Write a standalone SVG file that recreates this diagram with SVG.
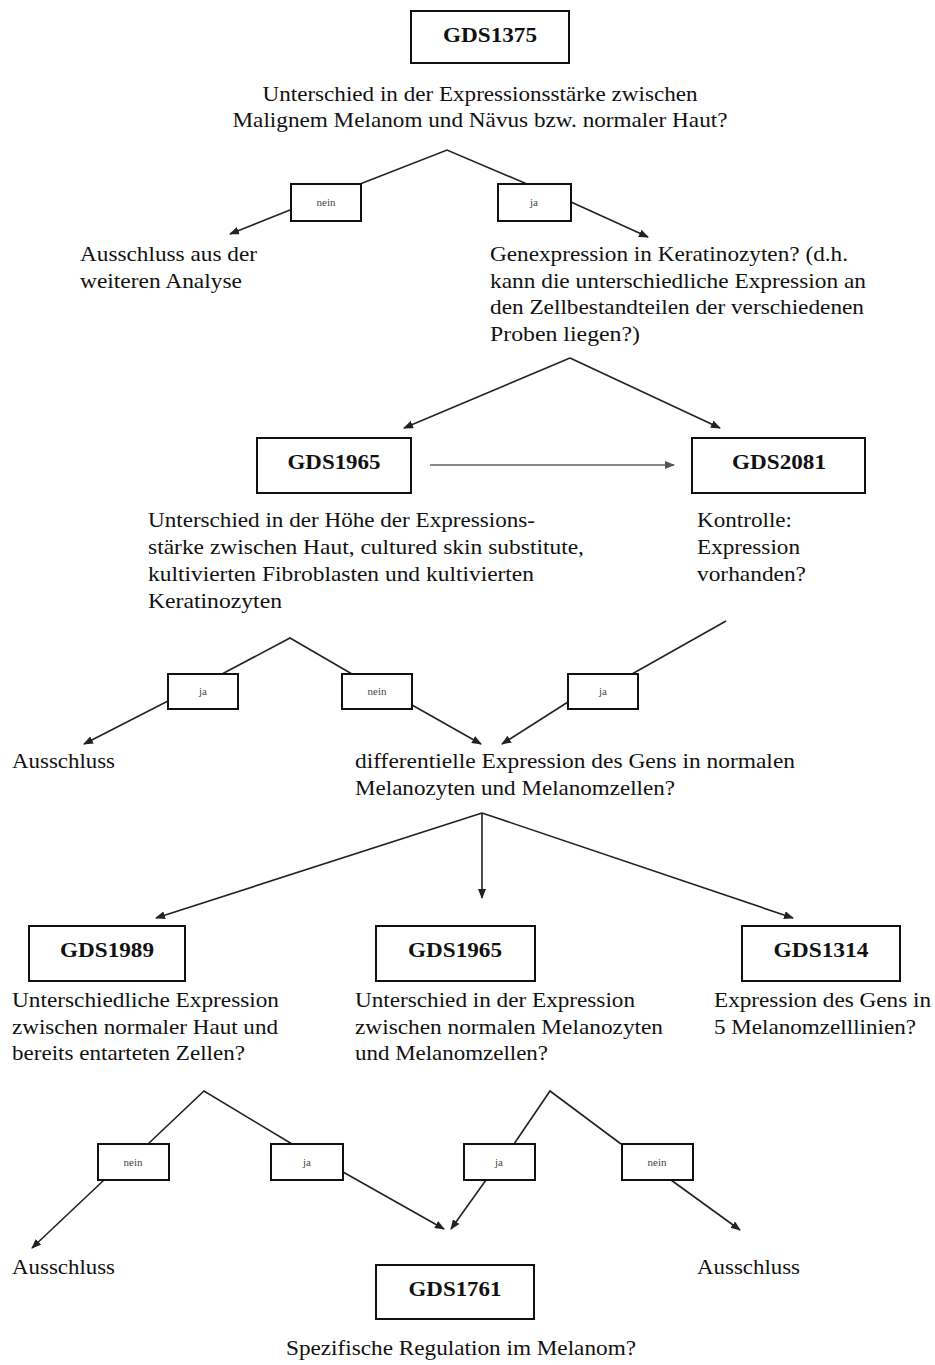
<svg xmlns="http://www.w3.org/2000/svg" width="935" height="1365" viewBox="0 0 935 1365">
<defs>
<style>
.box{fill:#fff;stroke:#111;stroke-width:2}
.lbl{font-family:"Liberation Serif","Times New Roman",serif;font-size:22px;font-weight:bold;text-anchor:middle;fill:#111}
.t{font-family:"Liberation Serif","Times New Roman",serif;font-size:22px;fill:#111}
.m{text-anchor:middle}
.s{font-family:"Liberation Serif","Times New Roman",serif;font-size:11px;fill:#444;text-anchor:middle}
.c{stroke:#222;stroke-width:1.6;fill:none}
.a{marker-end:url(#ah)}
.g{stroke:#888;stroke-width:1.8;fill:none;marker-end:url(#ahg)}
</style>
<marker id="ah" markerWidth="10" markerHeight="8" refX="9" refY="4" orient="auto" markerUnits="userSpaceOnUse"><path d="M0,0 L10,4 L0,8 z" fill="#222"/></marker>
<marker id="ahg" markerWidth="10" markerHeight="8" refX="9" refY="4" orient="auto" markerUnits="userSpaceOnUse"><path d="M0,0 L10,4 L0,8 z" fill="#555"/></marker>
</defs>
<rect width="935" height="1365" fill="#fff"/>

<g id="connectors">
<polyline class="c" points="360,184 447,150 527,184"/>
<line class="c a" x1="290" y1="210" x2="230" y2="234"/>
<line class="c a" x1="571" y1="202" x2="648" y2="237"/>
<line class="c a" x1="570" y1="358" x2="404" y2="428"/>
<line class="c a" x1="570" y1="358" x2="720" y2="428"/>
<line class="g" x1="430" y1="465" x2="674" y2="465"/>
<polyline class="c" points="222,674 290,638 352,674"/>
<line class="c" x1="726" y1="621" x2="632" y2="674"/>
<line class="c a" x1="168" y1="701" x2="84" y2="744"/>
<line class="c a" x1="412" y1="705" x2="481" y2="744"/>
<line class="c a" x1="568" y1="702" x2="502" y2="744"/>
<line class="c a" x1="482" y1="813" x2="156" y2="918"/>
<line class="c a" x1="482" y1="813" x2="482" y2="898"/>
<line class="c a" x1="482" y1="813" x2="793" y2="918"/>
<polyline class="c" points="148,1144 204,1091 292,1144"/>
<polyline class="c" points="514,1144 550,1091 621,1144"/>
<line class="c a" x1="104" y1="1180" x2="32" y2="1248"/>
<line class="c a" x1="343" y1="1172" x2="444" y2="1229"/>
<line class="c a" x1="486" y1="1180" x2="451" y2="1229"/>
<line class="c a" x1="671" y1="1180" x2="740" y2="1230"/>
</g>

<g id="n-gds1375">
<rect class="box" x="411" y="11" width="158" height="52"/>
<text class="lbl" x="490" y="42" textLength="94" lengthAdjust="spacingAndGlyphs">GDS1375</text>
<text class="t m" x="480" y="101" textLength="435" lengthAdjust="spacingAndGlyphs">Unterschied in der Expressionsstärke zwischen</text>
<text class="t m" x="480" y="127" textLength="495" lengthAdjust="spacingAndGlyphs">Malignem Melanom und Nävus bzw. normaler Haut?</text>
</g>
<g id="e-nein1"><rect class="box" x="291" y="184" width="70" height="37"/><text class="s" x="326" y="206">nein</text></g>
<g id="e-ja1"><rect class="box" x="498" y="184" width="73" height="37"/><text class="s" x="534" y="206">ja</text></g>
<g id="n-ausschluss1">
<text class="t" x="80" y="261" textLength="177" lengthAdjust="spacingAndGlyphs">Ausschluss aus der</text>
<text class="t" x="80" y="288" textLength="162" lengthAdjust="spacingAndGlyphs">weiteren Analyse</text>
</g>
<g id="n-genexpression">
<text class="t" x="490" y="261" textLength="358" lengthAdjust="spacingAndGlyphs">Genexpression in Keratinozyten? (d.h.</text>
<text class="t" x="490" y="288" textLength="376" lengthAdjust="spacingAndGlyphs">kann die unterschiedliche Expression an</text>
<text class="t" x="490" y="314" textLength="374" lengthAdjust="spacingAndGlyphs">den Zellbestandteilen der verschiedenen</text>
<text class="t" x="490" y="341" textLength="150" lengthAdjust="spacingAndGlyphs">Proben liegen?)</text>
</g>
<g id="n-gds1965a">
<rect class="box" x="257" y="438" width="154" height="55"/>
<text class="lbl" x="334" y="469" textLength="93" lengthAdjust="spacingAndGlyphs">GDS1965</text>
<text class="t" x="148" y="527" textLength="387" lengthAdjust="spacingAndGlyphs">Unterschied in der Höhe der Expressions-</text>
<text class="t" x="148" y="554" textLength="436" lengthAdjust="spacingAndGlyphs">stärke zwischen Haut, cultured skin substitute,</text>
<text class="t" x="148" y="581" textLength="386" lengthAdjust="spacingAndGlyphs">kultivierten Fibroblasten und kultivierten</text>
<text class="t" x="148" y="608" textLength="134" lengthAdjust="spacingAndGlyphs">Keratinozyten</text>
</g>
<g id="n-gds2081">
<rect class="box" x="692" y="438" width="173" height="55"/>
<text class="lbl" x="779" y="469" textLength="94" lengthAdjust="spacingAndGlyphs">GDS2081</text>
<text class="t" x="697" y="527" textLength="95" lengthAdjust="spacingAndGlyphs">Kontrolle:</text>
<text class="t" x="697" y="554" textLength="103" lengthAdjust="spacingAndGlyphs">Expression</text>
<text class="t" x="697" y="581" textLength="109" lengthAdjust="spacingAndGlyphs">vorhanden?</text>
</g>
<g id="e-ja2"><rect class="box" x="168" y="674" width="70" height="35"/><text class="s" x="203" y="695">ja</text></g>
<g id="e-nein2"><rect class="box" x="342" y="674" width="70" height="35"/><text class="s" x="377" y="695">nein</text></g>
<g id="e-ja3"><rect class="box" x="568" y="674" width="70" height="35"/><text class="s" x="603" y="695">ja</text></g>
<g id="n-ausschluss2"><text class="t" x="12" y="768" textLength="103" lengthAdjust="spacingAndGlyphs">Ausschluss</text></g>
<g id="n-differentielle">
<text class="t" x="355" y="768" textLength="440" lengthAdjust="spacingAndGlyphs">differentielle Expression des Gens in normalen</text>
<text class="t" x="355" y="795" textLength="320" lengthAdjust="spacingAndGlyphs">Melanozyten und Melanomzellen?</text>
</g>
<g id="n-gds1989">
<rect class="box" x="29" y="926" width="156" height="55"/>
<text class="lbl" x="107" y="957" textLength="94" lengthAdjust="spacingAndGlyphs">GDS1989</text>
<text class="t" x="12" y="1007" textLength="267" lengthAdjust="spacingAndGlyphs">Unterschiedliche Expression</text>
<text class="t" x="12" y="1034" textLength="266" lengthAdjust="spacingAndGlyphs">zwischen normaler Haut und</text>
<text class="t" x="12" y="1060" textLength="233" lengthAdjust="spacingAndGlyphs">bereits entarteten Zellen?</text>
</g>
<g id="n-gds1965b">
<rect class="box" x="376" y="926" width="159" height="55"/>
<text class="lbl" x="455" y="957" textLength="94" lengthAdjust="spacingAndGlyphs">GDS1965</text>
<text class="t" x="355" y="1007" textLength="280" lengthAdjust="spacingAndGlyphs">Unterschied in der Expression</text>
<text class="t" x="355" y="1034" textLength="308" lengthAdjust="spacingAndGlyphs">zwischen normalen Melanozyten</text>
<text class="t" x="355" y="1060" textLength="193" lengthAdjust="spacingAndGlyphs">und Melanomzellen?</text>
</g>
<g id="n-gds1314">
<rect class="box" x="742" y="926" width="158" height="55"/>
<text class="lbl" x="821" y="957" textLength="95" lengthAdjust="spacingAndGlyphs">GDS1314</text>
<text class="t" x="714" y="1007" textLength="217" lengthAdjust="spacingAndGlyphs">Expression des Gens in</text>
<text class="t" x="714" y="1034" textLength="202" lengthAdjust="spacingAndGlyphs">5 Melanomzelllinien?</text>
</g>
<g id="e-nein3"><rect class="box" x="98" y="1144" width="71" height="36"/><text class="s" x="133" y="1166">nein</text></g>
<g id="e-ja4"><rect class="box" x="271" y="1144" width="72" height="36"/><text class="s" x="307" y="1166">ja</text></g>
<g id="e-ja5"><rect class="box" x="464" y="1144" width="71" height="36"/><text class="s" x="499" y="1166">ja</text></g>
<g id="e-nein4"><rect class="box" x="622" y="1144" width="71" height="36"/><text class="s" x="657" y="1166">nein</text></g>
<g id="n-ausschluss3"><text class="t" x="12" y="1274" textLength="103" lengthAdjust="spacingAndGlyphs">Ausschluss</text></g>
<g id="n-ausschluss4"><text class="t" x="697" y="1274" textLength="103" lengthAdjust="spacingAndGlyphs">Ausschluss</text></g>
<g id="n-gds1761">
<rect class="box" x="376" y="1265" width="158" height="54"/>
<text class="lbl" x="455" y="1296" textLength="93" lengthAdjust="spacingAndGlyphs">GDS1761</text>
<text class="t m" x="461" y="1355" textLength="350" lengthAdjust="spacingAndGlyphs">Spezifische Regulation im Melanom?</text>
</g>
</svg>
